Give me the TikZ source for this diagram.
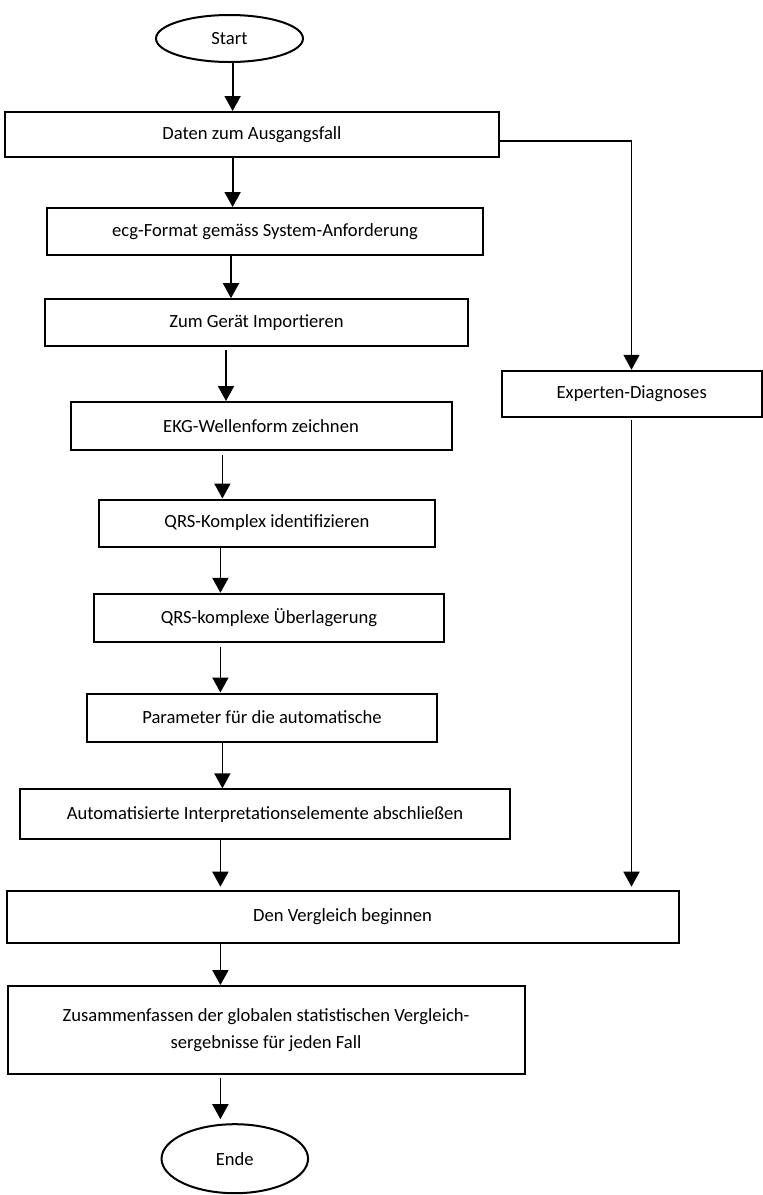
\documentclass[tikz,border=0pt]{standalone}
\usepackage{fontspec}
\setmainfont{Carlito}
\usetikzlibrary{shapes.geometric,arrows.meta}
\begin{document}
\begin{tikzpicture}[x=1pt,y=-1pt,
  every node/.style={font=\fontsize{18.6}{26.7}\selectfont, inner sep=0pt},
  box/.style={draw, line width=2pt, rectangle, align=center},
  term/.style={draw, line width=2pt, ellipse},
  arr/.style={line width=1.8pt, -{Triangle[length=15pt,width=16pt]}}]
\useasboundingbox (0,0) rectangle (763,1195);
\node[term, minimum width=147pt, minimum height=47pt] (start) at (229.5,38.5) {Start};
\node[box, minimum width=494pt, minimum height=45pt] (daten) at (252,134.5) {Daten zum Ausgangsfall};
\node[box, minimum width=436pt, minimum height=47pt] (ecg) at (265,231.5) {ecg-Format gemäss System-Anforderung};
\node[box, minimum width=423pt, minimum height=47pt] (zum) at (256.5,322.7) {Zum Gerät Importieren};
\node[box, minimum width=381pt, minimum height=48pt] (ekg) at (261,426) {EKG-Wellenform zeichnen};
\node[box, minimum width=336pt, minimum height=47pt] (qrs) at (267,523) {QRS-Komplex identifizieren};
\node[box, minimum width=350pt, minimum height=48pt] (ueber) at (269,617.8) {QRS-komplexe Überlagerung};
\node[box, minimum width=350pt, minimum height=48pt] (param) at (262,717.5) {Parameter für die automatische};
\node[box, minimum width=490pt, minimum height=50pt] (auto) at (265,814.3) {Automatisierte Interpretationselemente abschließen};
\node[box, minimum width=672pt, minimum height=52pt] (verg) at (342.5,916.7) {Den Vergleich beginnen};
\node[box, minimum width=517pt, minimum height=88pt] (zus) at (266,1030) {Zusammenfassen der globalen statistischen Vergleich-\\sergebnisse für jeden Fall};
\node[term, minimum width=146.5pt, minimum height=69pt] (ende) at (234.8,1158.7) {Ende};
\node[box, minimum width=260pt, minimum height=46.5pt] (exp) at (631.7,394) {Experten-Diagnoses};

\coordinate (xa) at (232.6,0);
\coordinate (xb) at (231,0);
\coordinate (xc) at (226,0);
\coordinate (xd) at (222.4,0);
\coordinate (xe) at (220.4,0);
\coordinate (xr) at (631.5,0);
\coordinate (yr) at (0,140.7);

\draw[arr] (start.south -| xa) -- (daten.north -| xa);
\draw[arr] (daten.south -| xa) -- (ecg.north -| xa);
\draw[arr] (ecg.south -| xb) -- (zum.north -| xb);
\draw[arr] ([yshift=-3pt]zum.south -| xc) -- (ekg.north -| xc);
\draw[arr] ([yshift=-4pt]ekg.south -| xd) -- (qrs.north -| xd);
\draw[arr] (qrs.south -| xe) -- (ueber.north -| xe);
\draw[arr] ([yshift=-4pt]ueber.south -| xe) -- (param.north -| xe);
\draw[arr] (param.south -| xd) -- (auto.north -| xd);
\draw[arr, shorten >=3pt] (auto.south -| xe) -- (verg.north -| xe);
\draw[arr] (verg.south -| xe) -- (zus.north -| xe);
\draw[arr, shorten >=4pt] ([yshift=-3pt]zus.south -| xe) -- (ende.north -| xe);
\draw[arr] (daten.east |- yr) -- (xr |- yr) -- (exp.north -| xr);
\draw[arr, shorten >=3pt] ([yshift=-2pt]exp.south -| xr) -- (verg.north -| xr);
\end{tikzpicture}
\end{document}
